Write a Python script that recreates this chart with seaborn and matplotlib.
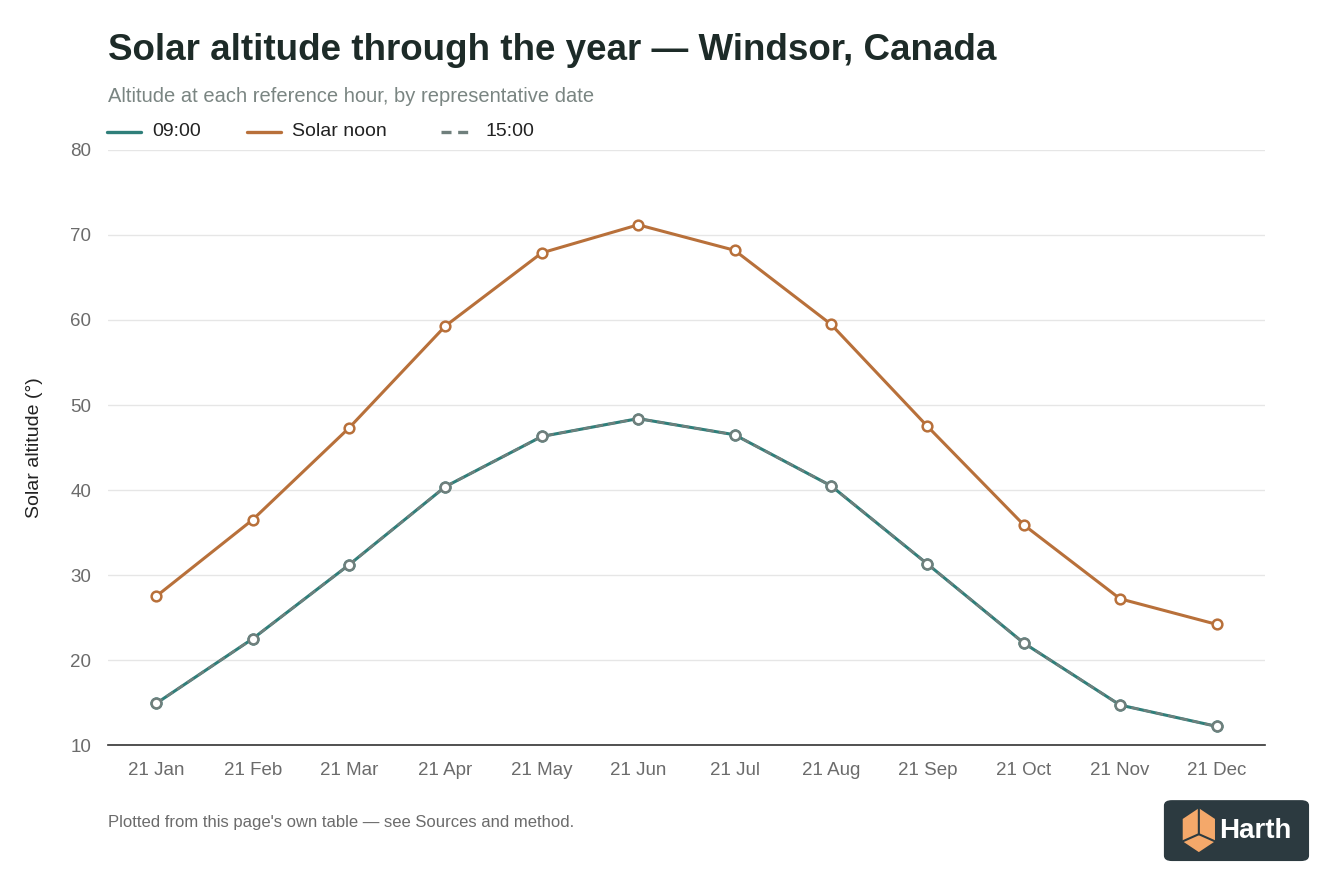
import matplotlib
matplotlib.use("Agg")
import matplotlib.pyplot as plt
import seaborn as sns
import pandas as pd
from matplotlib.patches import FancyBboxPatch, Polygon

months = ["21 Jan", "21 Feb", "21 Mar", "21 Apr", "21 May", "21 Jun",
          "21 Jul", "21 Aug", "21 Sep", "21 Oct", "21 Nov", "21 Dec"]
alt_0900 = [14.9, 22.5, 31.2, 40.4, 46.3, 48.4, 46.5, 40.5, 31.3, 22.0, 14.7, 12.2]
alt_noon = [27.5, 36.5, 47.3, 59.3, 67.9, 71.2, 68.2, 59.5, 47.5, 35.9, 27.2, 24.2]
alt_1500 = [14.9, 22.5, 31.2, 40.4, 46.3, 48.4, 46.5, 40.5, 31.3, 22.0, 14.7, 12.2]

teal = "#2f7f7a"
orange = "#b8703a"
grey = "#6f7f7c"

sns.set_theme(style="white")
plt.rcParams["font.family"] = ["Liberation Sans", "DejaVu Sans"]

fig = plt.figure(figsize=(13.44, 8.96), dpi=100)
ax = fig.add_axes([0.0804, 0.1685, 0.8606, 0.6641])

idx = list(range(len(months)))
df = pd.DataFrame({"x": idx, "a9": alt_0900, "noon": alt_noon, "a15": alt_1500})

mk = dict(marker="o", markersize=7, markerfacecolor="white", markeredgewidth=1.8)
sns.lineplot(data=df, x="x", y="noon", ax=ax, color=orange, lw=2.2, markeredgecolor=orange, **mk)
sns.lineplot(data=df, x="x", y="a9", ax=ax, color=teal, lw=2.2, markeredgecolor=teal, **mk)
sns.lineplot(data=df, x="x", y="a15", ax=ax, color=grey, lw=1.8, linestyle=(0, (3, 2)),
             markeredgecolor=grey, **mk)

ax.set_xlim(-0.5, 11.5)
ax.set_ylim(10, 80)
ax.set_yticks(range(10, 81, 10))
ax.set_xticks(idx)
ax.set_xticklabels(months)
ax.tick_params(axis="both", labelsize=13.5, colors="#6b6b6b", length=0, pad=12)
ax.set_xlabel("")
ax.set_ylabel("Solar altitude (°)", fontsize=14, color="#222222", labelpad=20)
ax.grid(axis="y", color="#e6e6e6", lw=1)
for s in ["top", "right", "left"]:
    ax.spines[s].set_visible(False)
ax.spines["bottom"].set_color("#333333")
ax.spines["bottom"].set_linewidth(1.2)

fig.text(0.0804, 0.944, "Solar altitude through the year — Windsor, Canada",
         fontsize=26.5, fontweight="bold", color="#1d2b28", va="center")
fig.text(0.0804, 0.892, "Altitude at each reference hour, by representative date",
         fontsize=14.5, color="#7a8582", va="center")

# legend
ly = 0.853
items = [(0.0796, 0.113, teal, "-", "09:00"), (0.184, 0.217, orange, "-", "Solar noon"),
         (0.328, 0.361, grey, (0, (3, 2)), "15:00")]
for x0, xt, c, ls, lab in items:
    fig.add_artist(plt.Line2D([x0, x0 + 0.025], [ly, ly], color=c, lw=2.4, ls=ls))
    fig.text(xt, ly, lab, fontsize=14, color="#222222", va="center")

fig.text(0.0804, 0.082, "Plotted from this page's own table — see Sources and method.",
         fontsize=12, color="#6b6b6b", va="center")

# logo
fig.add_artist(FancyBboxPatch((0.866, 0.039), 0.108, 0.068,
                              boxstyle="round,pad=0,rounding_size=0.006",
                              transform=fig.transFigure, fc="#2c3a40", ec="none"))
cx, cy = 0.892, 0.073
hex_pts = [(cx, cy + 0.025), (cx + 0.012, cy + 0.013), (cx + 0.012, cy - 0.012),
           (cx, cy - 0.024), (cx - 0.012, cy - 0.012), (cx - 0.012, cy + 0.013)]
fig.add_artist(Polygon(hex_pts, closed=True, transform=fig.transFigure,
                       fc="#f4a86a", ec="none"))
fig.add_artist(plt.Line2D([cx, cx, cx - 0.012], [cy + 0.025, cy - 0.004, cy - 0.012],
                          color="#2c3a40", lw=1.5))
fig.add_artist(plt.Line2D([cx, cx + 0.012], [cy - 0.004, cy - 0.012], color="#2c3a40", lw=1.5))
fig.text(0.907, 0.073, "Harth", fontsize=20, fontweight="bold", color="white", va="center")

fig.savefig("out.png", dpi=100, facecolor="white")
